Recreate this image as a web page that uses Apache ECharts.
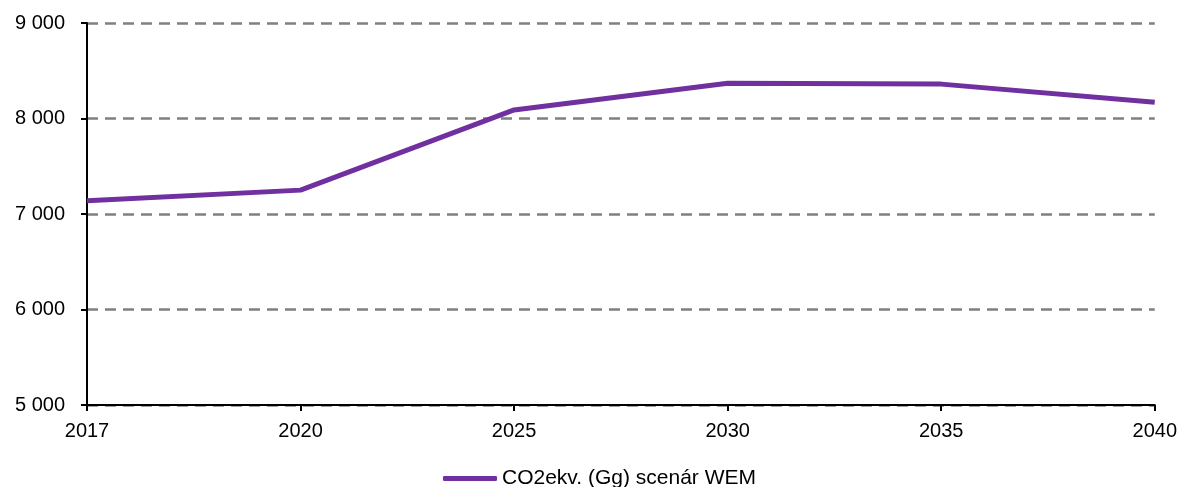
<!DOCTYPE html>
<html><head><meta charset="utf-8">
<script src="https://cdn.jsdelivr.net/npm/echarts@6/dist/echarts.min.js"></script>
<style>html,body{margin:0;padding:0;background:#fff}#c{width:1180px;height:487px}</style>
</head><body><div id="c"></div>
<script>
const years = ['2017','2020','2025','2030','2035','2040'];
const seriesName = 'CO2ekv. (Gg) scenár WEM';
const values = [7140, 7250, 8090, 8370, 8360, 8170];
const yMin = 5000, yMax = 9000, yStep = 1000;

const chart = echarts.init(document.getElementById('c'), null, {renderer:'canvas'});
const font = 'Liberation Sans, Arial, sans-serif';
chart.setOption({
  animation:false,
  grid:{left:87, right:25, top:23, bottom:82, containLabel:false},
  legend:{
    top:468, left:443, padding:0,
    data:[{name:seriesName, icon:'roundRect'}],
    itemWidth:54, itemHeight:5, itemGap:10,
    textStyle:{fontFamily:font, fontSize:21, color:'#000'}
  },
  xAxis:{
    type:'category', data:years, boundaryGap:false,
    axisLine:{lineStyle:{color:'#000', width:2}},
    axisTick:{show:true, length:6, lineStyle:{color:'#000', width:2}},
    axisLabel:{fontFamily:font, fontSize:20, color:'#000', margin:16, showMaxLabel:true, showMinLabel:true},
    splitLine:{show:false}
  },
  yAxis:{
    type:'value', min:yMin, max:yMax, interval:yStep,
    axisLine:{show:true, lineStyle:{color:'#000', width:2}},
    axisTick:{show:true, length:6, lineStyle:{color:'#000', width:2}},
    axisLabel:{fontFamily:font, fontSize:20, color:'#000', margin:22,
      formatter:v=>String(v).replace(/\B(?=(\d{3})+(?!\d))/g,' ')},
    splitLine:{show:true, lineStyle:{color:'#808080', width:2.5, type:[11,7]}}
  },
  series:[{
    name:seriesName, type:'line', data:values,
    symbol:'none', lineStyle:{color:'#7030A0', width:5}, itemStyle:{color:'#7030A0'}
  }]
});
</script></body></html>
